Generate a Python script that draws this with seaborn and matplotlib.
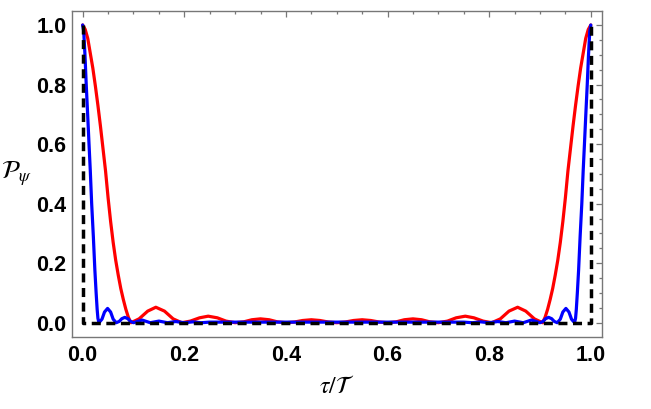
import pandas as pd
import seaborn as sns
import matplotlib.pyplot as plt
from matplotlib.ticker import MultipleLocator

# red curve
tau_red = [0.0, 0.005, 0.010, 0.015, 0.020, 0.025, 0.030, 0.035, 0.040, 0.045, 0.050, 0.055, 0.060,
           0.065, 0.070, 0.075, 0.080, 0.085, 0.090, 0.095,
           0.111, 0.128, 0.144, 0.161, 0.178, 0.195,
           0.212, 0.230, 0.247, 0.265, 0.282, 0.300,
           0.317, 0.333, 0.350, 0.367, 0.383, 0.400,
           0.417, 0.433, 0.450, 0.467, 0.483, 0.500,
           0.517, 0.533, 0.550, 0.567, 0.583, 0.600,
           0.617, 0.633, 0.650, 0.667, 0.683, 0.700,
           0.718, 0.735, 0.753, 0.770, 0.788, 0.805,
           0.822, 0.839, 0.856, 0.872, 0.889, 0.905,
           0.910, 0.915, 0.920, 0.925, 0.930, 0.935, 0.940, 0.945, 0.950, 0.955, 0.960,
           0.965, 0.970, 0.975, 0.980, 0.985, 0.990, 0.995, 1.0]
p_red = [1.0, 0.985, 0.955, 0.905, 0.855, 0.795, 0.730, 0.660, 0.585, 0.510, 0.420, 0.340, 0.270,
         0.210, 0.160, 0.115, 0.078, 0.045, 0.018, 0.0,
         0.013, 0.039, 0.052, 0.039, 0.013, 0.0,
         0.0055, 0.0165, 0.022, 0.0165, 0.0055, 0.0,
         0.003, 0.010, 0.013, 0.010, 0.003, 0.0,
         0.0025, 0.0075, 0.010, 0.0075, 0.0025, 0.0,
         0.0025, 0.0075, 0.010, 0.0075, 0.0025, 0.0,
         0.003, 0.010, 0.013, 0.010, 0.003, 0.0,
         0.0055, 0.0165, 0.022, 0.0165, 0.0055, 0.0,
         0.013, 0.039, 0.052, 0.039, 0.013, 0.0,
         0.018, 0.045, 0.078, 0.115, 0.160, 0.210, 0.270, 0.340, 0.420, 0.510, 0.585,
         0.660, 0.730, 0.795, 0.855, 0.905, 0.955, 0.985, 1.0]

# blue curve
tau_blue = [0.0, 0.002, 0.0045, 0.007, 0.0098, 0.0125, 0.015, 0.0177, 0.021, 0.024, 0.0265, 0.0285,
            0.030, 0.032,
            0.038, 0.043, 0.049, 0.055, 0.060, 0.066,
            0.072, 0.077, 0.083, 0.089, 0.094, 0.100,
            0.108, 0.117, 0.125, 0.133, 0.150, 0.167, 0.183, 0.200, 0.217, 0.233, 0.250,
            0.750, 0.767, 0.783, 0.800, 0.817, 0.833, 0.850, 0.867, 0.875, 0.883, 0.892, 0.900,
            0.906, 0.911, 0.917, 0.923, 0.928, 0.934,
            0.940, 0.945, 0.951, 0.957, 0.962, 0.968,
            0.970, 0.9715, 0.9735, 0.976, 0.979, 0.9823, 0.985, 0.9875, 0.9902, 0.993, 0.9955,
            0.998, 1.0]
p_blue = [1.0, 0.98, 0.90, 0.80, 0.70, 0.60, 0.51, 0.40, 0.29, 0.177, 0.100, 0.045,
          0.015, 0.0,
          0.012, 0.036, 0.048, 0.036, 0.012, 0.0,
          0.0045, 0.0135, 0.018, 0.0135, 0.0045, 0.0,
          0.0045, 0.009, 0.0045, 0.0, 0.0055, 0.0, 0.004, 0.0, 0.003, 0.0, 0.002,
          0.002, 0.0, 0.003, 0.0, 0.004, 0.0, 0.0055, 0.0, 0.0045, 0.009, 0.0045, 0.0,
          0.0045, 0.0135, 0.018, 0.0135, 0.0045, 0.0,
          0.012, 0.036, 0.048, 0.036, 0.012, 0.0,
          0.015, 0.045, 0.100, 0.177, 0.29, 0.40, 0.51, 0.60, 0.70, 0.80, 0.90,
          0.98, 1.0]

# black dashed limit
tau_lim = [0.0, 0.0, 1.0, 1.0]
p_lim = [1.0, 0.0, 0.0, 1.0]

sns.set_theme(style="white")
plt.rcParams['font.family'] = ['Liberation Sans', 'DejaVu Sans']
plt.rcParams['mathtext.fontset'] = 'stix'

fig = plt.figure(figsize=(6.51, 4.09), dpi=100)
ax = fig.add_axes([0.1106, 0.176, 0.8141, 0.7978])

red = pd.DataFrame({'tau': tau_red, 'P': p_red})
blue = pd.DataFrame({'tau': tau_blue, 'P': p_blue})
lim = pd.DataFrame({'tau': tau_lim, 'P': p_lim})

sns.lineplot(data=red, x='tau', y='P', color='red', lw=2.3, sort=False, estimator=None, ax=ax)
sns.lineplot(data=blue, x='tau', y='P', color='blue', lw=2.3, sort=False, estimator=None, ax=ax)
sns.lineplot(data=lim, x='tau', y='P', color='black', lw=2.5, sort=False, estimator=None,
             dashes=False, ax=ax)
ax.lines[-1].set_dashes((2.6, 1.6))

ax.set_xlim(-0.021, 1.022)
ax.set_ylim(-0.048, 1.048)
ax.xaxis.set_major_locator(MultipleLocator(0.2))
ax.xaxis.set_minor_locator(MultipleLocator(0.05))
ax.yaxis.set_major_locator(MultipleLocator(0.2))
ax.yaxis.set_minor_locator(MultipleLocator(0.05))
ax.xaxis.set_major_formatter(lambda v, p: f"{v:.1f}")
ax.yaxis.set_major_formatter(lambda v, p: f"{v:.1f}")

for s in ax.spines.values():
    s.set_color('#777777')
    s.set_linewidth(1.0)
ax.tick_params(which='both', direction='in', top=True, right=True, color='#777777', width=0.9)
ax.tick_params(which='major', length=4.5)
ax.tick_params(which='minor', length=2.5)
ax.tick_params(axis='x', which='major', pad=6, labelsize=15.5, labelcolor='black')
ax.tick_params(axis='y', which='major', pad=4, labelsize=15.5, labelcolor='black')
for lab in ax.get_xticklabels() + ax.get_yticklabels():
    lab.set_fontweight('bold')

ax.set_xlabel(r'$\tau/\mathcal{T}$', fontsize=17, va='center', color='black')
ax.set_ylabel(r'$\mathcal{P}_{\psi}$', fontsize=18, rotation=0, ha='center', va='center', color='black')
ax.xaxis.set_label_coords(0.5, -0.152)
ax.yaxis.set_label_coords(-0.105, 0.5)

fig.savefig('out.png', dpi=100)
